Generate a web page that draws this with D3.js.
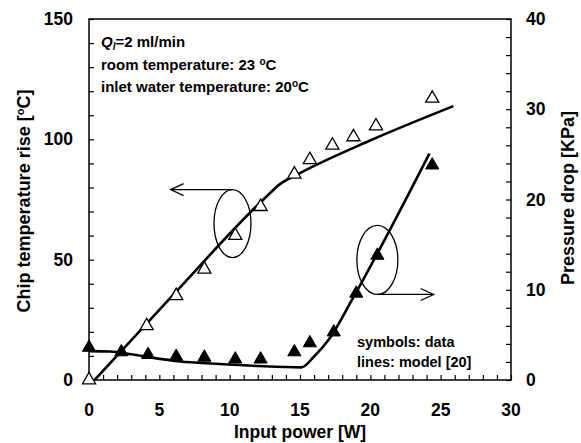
<html><head><meta charset="UTF-8"><title>Chip temperature and pressure drop</title>
<style>
  body, html { margin: 0; padding: 0; background: #fff; }
  svg { display: block; font-family: 'Liberation Sans', Arial, sans-serif; font-weight: bold; }
</style>
</head>
<body>
<div id="chart"></div>
<script src="https://d3js.org/d3.v7.min.js"></script>
<script>
// measured data (open triangles, left axis)
const tempPower = [0, 4.1, 6.2, 8.2, 10.4, 12.2, 14.6, 15.7, 17.3, 18.8, 20.4, 24.4];
const tempRise  = [0, 22.5, 35, 46, 60, 72, 85.5, 91.5, 97.5, 101, 105.5, 117];
// measured data (filled triangles, right axis)
const presPower = [0, 2.3, 4.2, 6.2, 8.2, 10.4, 12.2, 14.6, 15.7, 17.4, 19.0, 20.5, 24.4];
const presDrop  = [3.6, 3.1, 2.8, 2.6, 2.5, 2.3, 2.3, 3.1, 4.1, 5.3, 9.6, 13.8, 23.8];
// model lines
const tempModelX = [0.4, 6, 12.4, 13.6, 15, 19.9, 25.9];
const tempModelY = [0, 35.5, 75, 81.5, 86, 99.3, 113.8];
const presModelX = [0, 1.5, 3, 4, 6.5, 9, 12, 15.1, 16, 17.1, 18.7, 24.2];
const presModelY = [3.2, 3.15, 2.85, 2.6, 2.05, 1.8, 1.55, 1.4, 2.6, 4.6, 8.9, 25.1];

const xTicks = [0, 5, 10, 15, 20, 25, 30];
const leftTicks = [0, 50, 100, 150];
const rightTicks = [0, 10, 20, 30, 40];

const W = 581, H = 443;
const m = { left: 89, right: 511, top: 19, bottom: 380 };

const svg = d3.select("#chart").append("svg").attr("width", W).attr("height", H);

const x = d3.scaleLinear().domain([0, 30]).range([m.left, m.right]);
const yL = d3.scaleLinear().domain([0, 150]).range([m.bottom, m.top]);
const yR = d3.scaleLinear().domain([0, 40]).range([m.bottom, m.top]);

// frame
svg.append("rect")
  .attr("x", m.left).attr("y", m.top)
  .attr("width", m.right - m.left).attr("height", m.bottom - m.top)
  .attr("fill", "none").attr("stroke", "#000").attr("stroke-width", 1.5);

// inward ticks
svg.append("g").attr("transform", `translate(0,${m.bottom})`)
  .call(d3.axisTop(x).ticks(30).tickSize(5).tickFormat(""))
  .call(g => g.select(".domain").remove());
svg.append("g").attr("transform", `translate(${m.left},0)`)
  .call(d3.axisRight(yL).ticks(15).tickSize(5).tickFormat(""))
  .call(g => g.select(".domain").remove());
svg.append("g").attr("transform", `translate(${m.right},0)`)
  .call(d3.axisLeft(yR).ticks(20).tickSize(5).tickFormat(""))
  .call(g => g.select(".domain").remove());
svg.selectAll(".tick line").attr("stroke-width", 1.2);

// tick labels
svg.append("g").selectAll("text").data(xTicks).join("text")
  .attr("x", d => x(d)).attr("y", 416)
  .attr("text-anchor", "middle").attr("font-size", 17.5).text(d => d);
svg.append("g").selectAll("text").data(leftTicks).join("text")
  .attr("x", 73).attr("y", d => yL(d) + 6)
  .attr("text-anchor", "end").attr("font-size", 17.5).text(d => d);
svg.append("g").selectAll("text").data(rightTicks).join("text")
  .attr("x", 526).attr("y", d => yR(d) + 6)
  .attr("text-anchor", "start").attr("font-size", 17.5).text(d => d);

// axis titles
svg.append("text").attr("x", 300).attr("y", 438).attr("text-anchor", "middle")
  .attr("font-size", 17.5).text("Input power [W]");
svg.append("text").attr("transform", "translate(30,201) rotate(-90)")
  .attr("text-anchor", "middle").attr("font-size", 18)
  .html("Chip temperature rise [<tspan dy='-6' font-size='11'>o</tspan><tspan dy='6'>C]</tspan>");
svg.append("text").attr("transform", "translate(574,198) rotate(-90)")
  .attr("text-anchor", "middle").attr("font-size", 18)
  .text("Pressure drop [KPa]");

// model lines
const tempLine = d3.line().x(d => x(d[0])).y(d => yL(d[1])).curve(d3.curveMonotoneX);
const presLine = d3.line().x(d => x(d[0])).y(d => yR(d[1])).curve(d3.curveMonotoneX);
svg.append("path").datum(d3.zip(tempModelX, tempModelY))
  .attr("d", tempLine).attr("fill", "none").attr("stroke", "#000").attr("stroke-width", 2.6);
svg.append("path").datum(d3.zip(presModelX, presModelY))
  .attr("d", presLine).attr("fill", "none").attr("stroke", "#000").attr("stroke-width", 2.6);

// symbols
const tri = d3.symbol().type(d3.symbolTriangle).size(75);
svg.append("g").selectAll("path").data(d3.zip(tempPower, tempRise)).join("path")
  .attr("transform", d => `translate(${x(d[0])},${yL(d[1])})`)
  .attr("d", tri).attr("fill", "#fff").attr("stroke", "#000").attr("stroke-width", 1.3);
svg.append("g").selectAll("path").data(d3.zip(presPower, presDrop)).join("path")
  .attr("transform", d => `translate(${x(d[0])},${yR(d[1])})`)
  .attr("d", tri).attr("fill", "#000").attr("stroke", "#000").attr("stroke-width", 1);

// ellipses with arrows
function arrowHead(px, py, dir) {
  svg.append("path")
    .attr("d", `M${px - dir * 13},${py - 6}L${px},${py}L${px - dir * 13},${py + 6}`)
    .attr("fill", "none").attr("stroke", "#000").attr("stroke-width", 1.3);
}
svg.append("ellipse").attr("cx", x(10.2)).attr("cy", yL(65)).attr("rx", 18.5).attr("ry", 34)
  .attr("fill", "none").attr("stroke", "#000").attr("stroke-width", 1.3);
svg.append("line").attr("x1", x(10.2)).attr("y1", yL(65) - 34).attr("x2", x(5.8)).attr("y2", yL(65) - 34)
  .attr("stroke", "#000").attr("stroke-width", 1.3);
arrowHead(x(5.8), yL(65) - 34, -1);

svg.append("ellipse").attr("cx", x(20.5)).attr("cy", yR(13.3)).attr("rx", 20.5).attr("ry", 34.5)
  .attr("fill", "none").attr("stroke", "#000").attr("stroke-width", 1.3);
svg.append("line").attr("x1", x(20.5)).attr("y1", yR(13.3) + 34.5).attr("x2", x(24.5)).attr("y2", yR(13.3) + 34.5)
  .attr("stroke", "#000").attr("stroke-width", 1.3);
arrowHead(x(24.5), yR(13.3) + 34.5, 1);

// annotations
const fs = 15;
const t1 = svg.append("text").attr("x", 101).attr("y", 47).attr("font-size", fs);
t1.append("tspan").attr("font-style", "italic").text("Q");
t1.append("tspan").attr("font-style", "italic").attr("font-size", 10).attr("dy", 3).text("l");
t1.append("tspan").attr("dy", -3).text("=2 ml/min");
svg.append("text").attr("x", 101).attr("y", 70).attr("font-size", fs)
  .html("room temperature: 23 <tspan dy='-5' font-size='10'>o</tspan><tspan dy='5'>C</tspan>");
svg.append("text").attr("x", 101).attr("y", 92).attr("font-size", fs)
  .html("inlet water temperature: 20<tspan dy='-5' font-size='10'>o</tspan><tspan dy='5'>C</tspan>");
svg.append("text").attr("x", 357).attr("y", 347).attr("font-size", 14.5).text("symbols: data");
svg.append("text").attr("x", 357).attr("y", 367).attr("font-size", 14.5).text("lines: model [20]");
</script>
</body></html>
